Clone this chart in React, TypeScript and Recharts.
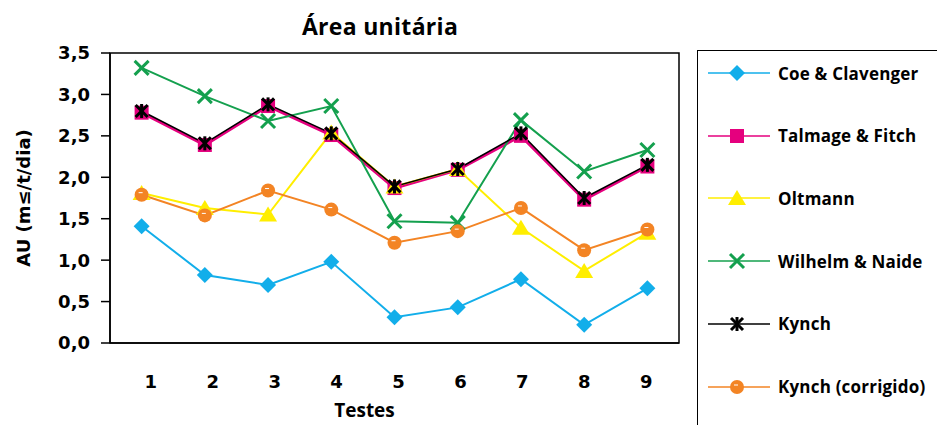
import React from "react";
import {
  LineChart,
  Line,
  XAxis,
  YAxis,
  Legend,
  ReferenceArea,
} from "recharts";

// Testes 1..9
const categories = ["1", "2", "3", "4", "5", "6", "7", "8", "9"];
const positions = [1, 2, 3, 4, 5, 6, 7, 8, 9];

const coeClavenger = [1.41, 0.82, 0.7, 0.98, 0.31, 0.43, 0.77, 0.22, 0.66];
const talmageFitch = [2.78, 2.39, 2.86, 2.51, 1.87, 2.09, 2.5, 1.73, 2.13];
const oltmann = [1.81, 1.63, 1.55, 2.54, 1.89, 2.1, 1.39, 0.87, 1.33];
const wilhelmNaide = [3.32, 2.98, 2.68, 2.86, 1.47, 1.45, 2.69, 2.07, 2.33];
const kynch = [2.8, 2.41, 2.88, 2.53, 1.89, 2.1, 2.53, 1.75, 2.15];
const kynchCorrigido = [1.79, 1.54, 1.84, 1.61, 1.21, 1.35, 1.63, 1.12, 1.37];

const yTicks = [0, 0.5, 1, 1.5, 2, 2.5, 3, 3.5];
const boundaryTicks = [0.5, 1.5, 2.5, 3.5, 4.5, 5.5, 6.5, 7.5, 8.5, 9.5];

const series = [
  { key: "coe", name: "Coe & Clavenger", color: "#12AEEA", marker: "diamond", values: coeClavenger, width: 2 },
  { key: "talmage", name: "Talmage & Fitch", color: "#E5007E", marker: "square", values: talmageFitch, width: 3 },
  { key: "oltmann", name: "Oltmann", color: "#FFEE00", marker: "triangle", values: oltmann, width: 2 },
  { key: "wilhelm", name: "Wilhelm & Naide", color: "#14A04E", marker: "x", values: wilhelmNaide, width: 2 },
  { key: "kynch", name: "Kynch", color: "#000000", marker: "star", values: kynch, width: 1.5 },
  { key: "kynchc", name: "Kynch (corrigido)", color: "#F38424", marker: "circle", values: kynchCorrigido, width: 2 },
];

const data = positions.map((x, i) => {
  const row: Record<string, number | string> = { x, label: categories[i] };
  series.forEach((s) => {
    row[s.key] = s.values[i];
  });
  return row;
});

const bold = "'DejaVu Sans', Verdana, sans-serif";
const humanist = "'Open Sans', Lato, sans-serif";

function Marker({ kind, cx, cy, color }: { kind: string; cx: number; cy: number; color: string }) {
  switch (kind) {
    case "diamond":
      return <path d={`M${cx},${cy - 8} L${cx + 8},${cy} L${cx},${cy + 8} L${cx - 8},${cy} Z`} fill={color} />;
    case "square":
      return <rect x={cx - 7} y={cy - 7} width={14} height={14} fill={color} />;
    case "triangle":
      return <path d={`M${cx},${cy - 8} L${cx + 9},${cy + 7} L${cx - 9},${cy + 7} Z`} fill={color} />;
    case "x":
      return (
        <g stroke={color} strokeWidth={3}>
          <line x1={cx - 7} y1={cy - 7} x2={cx + 7} y2={cy + 7} />
          <line x1={cx - 7} y1={cy + 7} x2={cx + 7} y2={cy - 7} />
        </g>
      );
    case "star":
      return (
        <g stroke={color} strokeWidth={3}>
          <line x1={cx - 6} y1={cy - 6} x2={cx + 6} y2={cy + 6} />
          <line x1={cx - 6} y1={cy + 6} x2={cx + 6} y2={cy - 6} />
          <line x1={cx} y1={cy - 7} x2={cx} y2={cy + 7} />
        </g>
      );
    default:
      return (
        <g>
          <circle cx={cx} cy={cy} r={7} fill={color} />
          <line x1={cx - 3} y1={cy - 2} x2={cx + 1} y2={cy - 2} stroke="#fff" strokeWidth={1} />
        </g>
      );
  }
}

function LegendBox() {
  return (
    <div
      style={{
        width: 260,
        height: 400,
        borderLeft: "1.5px solid #000",
        borderTop: "1.5px solid #000",
        boxSizing: "border-box",
        background: "#fff",
      }}
    >
      {series.map((s, i) => (
        <div key={s.key} style={{ position: "absolute", left: 0, top: 6 + i * 62.7, height: 34, display: "flex", alignItems: "center" }}>
          <svg width={81} height={34} style={{ display: "block" }}>
            <line x1={11} y1={17} x2={73} y2={17} stroke={s.color} strokeWidth={1.5} />
            <Marker kind={s.marker} cx={40} cy={17} color={s.color} />
          </svg>
          <span
            style={{
              fontFamily: humanist,
              fontWeight: 700,
              fontSize: 17,
              letterSpacing: 0.2,
              color: "#000",
              whiteSpace: "nowrap",
            }}
          >
            {s.name}
          </span>
        </div>
      ))}
    </div>
  );
}

export default function App() {
  return (
    <div style={{ position: "absolute", left: 0, top: 0, width: 937, height: 425, overflow: "hidden", background: "#fff" }}>
      <div
        style={{
          position: "absolute",
          left: 0,
          width: 760,
          top: 10,
          textAlign: "center",
          fontFamily: humanist,
          fontWeight: 700,
          fontSize: 23,
          letterSpacing: 0.3,
          color: "#000",
        }}
      >
        Área unitária
      </div>
      <LineChart width={937} height={425} data={data} margin={{ top: 53, right: 258, left: 0, bottom: 0 }}>
        <XAxis
          xAxisId="box"
          type="number"
          dataKey="x"
          domain={[0.5, 9.5]}
          ticks={boundaryTicks}
          tick={false}
          tickSize={7}
          height={10}
          stroke="#000"
          strokeWidth={1.5}
          allowDataOverflow
        />
        <XAxis
          xAxisId="lbl"
          type="number"
          dataKey="x"
          domain={[0.34, 9.53]}
          allowDataOverflow
          ticks={positions}
          tickFormatter={(v: number) => categories[v - 1]}
          axisLine={false}
          tickLine={false}
          tickSize={0}
          tickMargin={22}
          height={72}
          tick={{ fontFamily: bold, fontWeight: 700, fontSize: 18, fill: "#000" }}
          label={{
            value: "Testes",
            position: "insideBottom",
            offset: 8,
            dx: -30,
            style: { fontFamily: humanist, fontWeight: 700, fontSize: 19, fill: "#000" },
          }}
        />
        <YAxis
          type="number"
          domain={[0, 3.5]}
          ticks={yTicks}
          width={110}
          tickSize={9}
          tickMargin={11}
          stroke="#000"
          strokeWidth={1.5}
          tickFormatter={(v: number) => v.toFixed(1).replace(".", ",")}
          tick={{ fontFamily: bold, fontWeight: 700, fontSize: 18, fill: "#000" }}
          label={{
            value: "AU (m≤/t/dia)",
            angle: -90,
            position: "insideLeft",
            offset: 24,
            style: { textAnchor: "middle", fontFamily: bold, fontWeight: 700, fontSize: 18, fill: "#000" },
          }}
        />
        <ReferenceArea xAxisId="box" x1={0.5} x2={9.5} y1={0} y2={3.5} fill="none" stroke="#000" strokeWidth={1.5} ifOverflow="visible" />
        {series.map((s) => (
          <Line
            key={s.key}
            xAxisId="box"
            dataKey={s.key}
            name={s.name}
            stroke={s.color}
            strokeWidth={s.width}
            type="linear"
            isAnimationActive={false}
            dot={(p: any) => <Marker key={`${s.key}-${p.index}`} kind={s.marker} cx={p.cx} cy={p.cy} color={s.color} />}
            activeDot={false}
          />
        ))}
        <Legend
          layout="vertical"
          align="center"
          verticalAlign="middle"
          wrapperStyle={{ left: 697, top: 50, width: 260, height: 400 }}
          content={() => <LegendBox />}
        />
      </LineChart>
    </div>
  );
}
